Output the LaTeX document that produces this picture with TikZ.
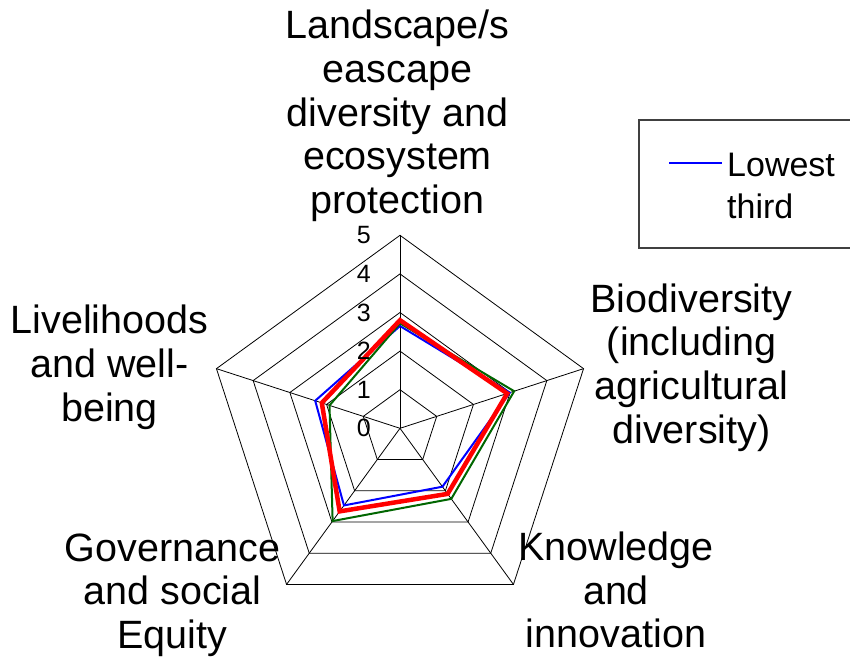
\documentclass[tikz,border=0pt]{standalone}
\usepackage{fontspec}
\setmainfont{Liberation Sans}
\usetikzlibrary{calc}
\definecolor{rdblue}{HTML}{0000FF}
\definecolor{rdred}{HTML}{FF0000}
\definecolor{rdgreen}{HTML}{006600}
\definecolor{rdgray}{HTML}{404040}

\begin{document}
\begin{tikzpicture}[
  x=1pt, y=1pt,
  every node/.style={inner sep=0pt},
  axislabel/.style={align=center, anchor=north, font=\fontsize{39.5}{43.7}\selectfont},
  ticklabel/.style={anchor=east, font=\fontsize{25}{28}\selectfont},
  legendtext/.style={align=left, anchor=north west, font=\fontsize{34}{42}\selectfont},
  gridline/.style={black, line width=0.8pt},
  series/.style={line join=miter},
]
\useasboundingbox (-400,-230.7) rectangle (450,428.3);

% radar grid and data, one unit per score point
\begin{scope}[x=38.6pt, y=38.6pt]
\foreach \r in {1,...,5}
  \draw[gridline] (90:\r) -- (18:\r) -- (-54:\r) -- (-126:\r) -- (162:\r) -- cycle;
\foreach \a in {90,18,-54,-126,162}
  \draw[gridline] (0,0) -- (\a:5);

\draw[series, rdblue, line width=2pt] (90:2.65) -- (18:2.99) -- (-54:1.87) -- (-126:2.47) -- (162:2.31) -- cycle;
\draw[series, rdgreen, line width=2pt] (90:2.72) -- (18:3.11) -- (-54:2.26) -- (-126:2.97) -- (162:1.92) -- cycle;
\draw[series, rdred, line width=4.5pt] (90:2.80) -- (18:2.92) -- (-54:2.10) -- (-126:2.66) -- (162:2.13) -- cycle;
\end{scope}

\foreach \v in {0,...,5}
  \node[ticklabel] (tick\v) at ([xshift=-29pt]0,\v*38.6) {\v};

% axis titles
\node[axislabel] (landscape) at (-2.5,418.3) {Landscape/s\\eascape\\diversity and\\ecosystem\\protection};
\node[axislabel] (biodiv) at (291.5,145) {Biodiversity\\(including\\agricultural\\diversity)};
\node[axislabel] (knowledge) at (216,-103.4) {Knowledge\\and\\innovation};
\node[axislabel] (governance) at (-227.5,-105) {Governance\\and social\\Equity};
\node[axislabel] (livelihoods) at (-290.5,123.3) {Livelihoods\\and well-\\being};

% legend, cut at the right edge
\draw[rdgray, line width=1.2pt] (239,180.3) rectangle (470,308.3);
\draw[rdblue, line width=2pt] (269,265) -- (322,265);
\node[legendtext] (lowest) at (327,275) {Lowest\\third};
\end{tikzpicture}
\end{document}
